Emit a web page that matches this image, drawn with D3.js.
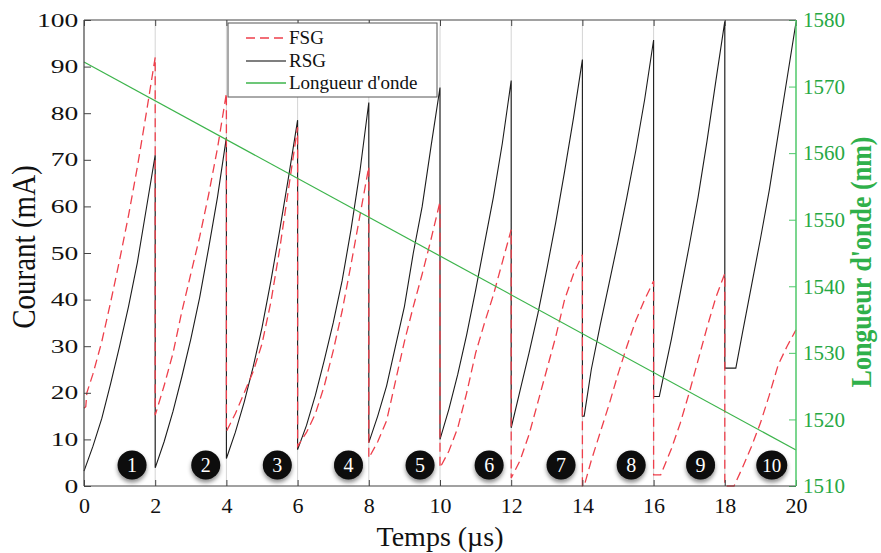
<!DOCTYPE html>
<html><head><meta charset="utf-8">
<script src="https://cdn.jsdelivr.net/npm/d3@7"></script>
<style>
html,body{margin:0;padding:0;background:#fff;}
svg{display:block;font-family:"Liberation Serif","Times New Roman",serif;}
svg text{font-family:"Liberation Serif","Times New Roman",serif !important;}
</style></head><body>
<svg id="chart" width="881" height="553"></svg>
<script>
// ---------- data ----------
const timeTicks = [0,2,4,6,8,10,12,14,16,18,20];
const currentTicks = [0,10,20,30,40,50,60,70,80,90,100];
const wavelengthTicks = [1510,1520,1530,1540,1550,1560,1570,1580];
const gridTimes = [2,4,6,8,10,12,14,16,18];
const seriesNames = ["FSG","RSG","Longueur d'onde"];

const fsgTime = [
  0,0.05,0.08,0.25,0.5,0.75,1.0,1.25,1.5,1.75,2.0,
  2.0,2.25,2.5,2.75,3.0,3.25,3.5,3.75,4.0,
  4.0,4.25,4.5,4.75,5.0,5.25,5.5,5.75,6.0,
  6.0,6.25,6.5,6.75,7.0,7.25,7.5,7.75,8.0,
  8.0,8.25,8.5,8.75,9.0,9.25,9.5,9.75,10.0,
  10.0,10.25,10.5,10.75,11.0,11.25,11.5,11.75,12.0,
  12.0,12.25,12.5,12.75,13.0,13.25,13.5,13.75,14.0,
  14.0,14.05,14.25,14.5,14.75,15.0,15.25,15.5,15.75,16.0,
  16.0,16.2,16.5,16.75,17.0,17.25,17.5,17.75,18.0,
  18.0,18.26,18.5,18.75,19.0,19.25,19.5,19.75,20.0
];
const fsgCurrent = [
  16.7,17,20,24,31,39.5,48.5,58,68.5,80,92,
  15.2,21.5,28.5,37.5,45.5,53.5,62.5,72.5,84.3,
  11.7,15.5,20,24.5,30.5,39.5,51,64,77,
  8.5,11.5,15.5,21.5,29,37.5,47.5,58,68.5,
  6,9.5,14,22.5,31,38.5,45.5,53,61,
  3.9,7.5,12.5,20,28.5,35,41,48,55,
  1.7,5.5,11,18,25,32,40,45.5,49.6,
  0,0,5.5,11.5,17.5,24,30,35.5,40,44,
  2.4,2.4,8,13.5,20,27,34,40.5,45.6,
  0,0,4,8.5,13.5,19.5,26,30,33.5
];

const rsgTime = [
  0,0.25,0.5,0.75,1.0,1.25,1.5,1.75,2.0,
  2.0,2.25,2.5,2.75,3.0,3.25,3.5,3.75,4.0,
  4.0,4.25,4.5,4.75,5.0,5.25,5.5,5.75,6.0,
  6.0,6.25,6.5,6.75,7.0,7.25,7.5,7.75,8.0,
  8.0,8.25,8.5,8.75,9.0,9.25,9.5,9.75,10.0,
  10.0,10.25,10.5,10.75,11.0,11.25,11.5,11.75,12.0,
  12.0,12.25,12.5,12.75,13.0,13.25,13.5,13.75,14.0,
  14.0,14.05,14.25,14.5,14.75,15.0,15.25,15.5,15.75,16.0,
  16.0,16.16,16.25,16.5,16.75,17.0,17.25,17.5,17.75,18.0,
  18.0,18.31,18.5,18.75,19.0,19.25,19.5,19.75,20.0
];
const rsgCurrent = [
  3.2,8.5,14.5,22,30,38.5,48,59.5,71,
  3.9,9.5,16,23.5,31.5,40.5,51,62,74.8,
  5.9,11.5,18,25.5,34,44,55,66.5,78.5,
  7.8,13,19.5,27,35,44,55,67.5,82.3,
  9.3,15,21.5,30,38.5,50,60,73,85.5,
  10,16.5,24,32.5,42,52,62,73.5,87,
  12.5,20.5,28.5,37,46.5,56.5,67.5,79,91.5,
  15,15,25,34.5,43.5,52.5,62,72,83,95.7,
  19.2,19.2,22.5,31.5,41.5,51.5,62,74,87,99.7,
  25.3,25.3,33,43,53,63.5,75.5,87.5,99.5
];

const wavelengthTime = [0,20];
const wavelengthValue = [1573.7,1515.4];

const periodLabels = ["1","2","3","4","5","6","7","8","9","10"];
const periodLabelTime = [1.35,3.42,5.43,7.43,9.44,11.38,13.40,15.37,17.32,19.32];
const periodLabelCurrent = 4.5;

// ---------- layout ----------
const L = 84, R = 796, T = 20, B = 486;
const svg = d3.select("#chart");
const SERIF = '"Liberation Serif","Times New Roman",serif';

const x = d3.scaleLinear().domain([0,20]).range([L,R]);
const y = d3.scaleLinear().domain([0,100]).range([B,T]);
const yR = d3.scaleLinear().domain([1510,1580]).range([B,T]);

const defs = svg.append("defs");
const f = defs.append("filter").attr("id","shadow").attr("x","-50%").attr("y","-50%").attr("width","200%").attr("height","200%");
f.append("feDropShadow").attr("dx",0).attr("dy",3).attr("stdDeviation",2).attr("flood-color","#000").attr("flood-opacity",0.45);

// grid lines
svg.append("g").selectAll("line").data(gridTimes).join("line")
  .attr("x1",d=>x(d)).attr("x2",d=>x(d)).attr("y1",y(100)).attr("y2",y(0))
  .attr("stroke","#d4d4d4").attr("stroke-width",1);

// series
const fsgData = fsgTime.map((t,i)=>[t,fsgCurrent[i]]);
const rsgData = rsgTime.map((t,i)=>[t,rsgCurrent[i]]);
const wlData = wavelengthTime.map((t,i)=>[t,wavelengthValue[i]]);

const lineC = d3.line().x(d=>x(d[0])).y(d=>y(d[1]));
const lineW = d3.line().x(d=>x(d[0])).y(d=>yR(d[1]));

svg.append("path").datum(rsgData).attr("d",lineC)
  .attr("fill","none").attr("stroke","#1c1c1c").attr("stroke-width",1.1);
svg.append("path").datum(fsgData).attr("d",lineC)
  .attr("fill","none").attr("stroke","#ee3f4b").attr("stroke-width",1.3)
  .attr("stroke-dasharray","9,5");
svg.append("path").datum(wlData).attr("d",lineW)
  .attr("fill","none").attr("stroke","#3cb44b").attr("stroke-width",1.2);

// axes
const gL = svg.append("g").attr("transform",`translate(${L},0)`)
  .call(d3.axisLeft(y).tickValues(currentTicks).tickSizeInner(-7).tickSizeOuter(0).tickPadding(4));
gL.select(".domain").remove();
gL.attr("font-family",SERIF);
gL.selectAll("line").attr("stroke","#444");
gL.selectAll("text").attr("font-size",19).attr("fill","#111")
  .attr("transform","scale(1.45,1)");

const gB = svg.append("g").attr("transform",`translate(0,${B})`)
  .call(d3.axisBottom(x).tickValues(timeTicks).tickSizeInner(-6).tickSizeOuter(0).tickPadding(11));
gB.select(".domain").remove();
gB.attr("font-family",SERIF);
gB.selectAll("line").attr("stroke","#444");
gB.selectAll("text").attr("font-size",22).attr("fill","#111");

const gT = svg.append("g").attr("transform",`translate(0,${T})`)
  .call(d3.axisTop(x).tickValues(timeTicks).tickSizeInner(-6).tickSizeOuter(0).tickFormat(""));
gT.select(".domain").remove();
gT.selectAll("line").attr("stroke","#444");

const gR = svg.append("g").attr("transform",`translate(${R},0)`)
  .call(d3.axisRight(yR).tickValues(wavelengthTicks).tickFormat(d3.format("d"))
    .tickSizeInner(-7).tickSizeOuter(0).tickPadding(7));
gR.select(".domain").remove();
gR.attr("font-family",SERIF);
gR.selectAll("line").attr("stroke","#4fc86a");
gR.selectAll("text").attr("font-size",21).attr("fill","#27a844");

// frame
svg.append("line").attr("x1",L).attr("x2",R).attr("y1",T).attr("y2",T).attr("stroke","#444").attr("stroke-width",1.2);
svg.append("line").attr("x1",L).attr("x2",R).attr("y1",B).attr("y2",B).attr("stroke","#444").attr("stroke-width",1.2);
svg.append("line").attr("x1",L).attr("x2",L).attr("y1",T).attr("y2",B).attr("stroke","#444").attr("stroke-width",1.2);
svg.append("line").attr("x1",R).attr("x2",R).attr("y1",T).attr("y2",B).attr("stroke","#4fc86a").attr("stroke-width",1.5);

// period markers
const mk = svg.append("g").selectAll("g").data(periodLabels).join("g")
  .attr("transform",(d,i)=>`translate(${x(periodLabelTime[i])},${y(periodLabelCurrent)})`);
mk.append("ellipse").attr("rx",d=>d.length>1?15.5:14.5).attr("ry",14.5)
  .attr("fill","#080808").attr("filter","url(#shadow)");
mk.append("text").text(d=>d).attr("text-anchor","middle").attr("y",7)
  .attr("font-family",SERIF)
  .attr("font-size",d=>d.length>1?19:20).attr("fill","#fff");

// legend
const lg = svg.append("g");
lg.append("rect").attr("x",228).attr("y",23).attr("width",209).attr("height",74)
  .attr("fill","#fff").attr("stroke","#555").attr("stroke-width",1);
const legendY = [38,61,83];
const legendStyle = [
  {stroke:"#ee3f4b", dash:"9,5"},
  {stroke:"#555", dash:null},
  {stroke:"#3cb44b", dash:null}
];
seriesNames.forEach((name,i)=>{
  lg.append("line").attr("x1",246).attr("x2",286).attr("y1",legendY[i]).attr("y2",legendY[i])
    .attr("stroke",legendStyle[i].stroke).attr("stroke-width",1.3)
    .attr("stroke-dasharray",legendStyle[i].dash);
  lg.append("text").attr("x",289).attr("y",legendY[i]+6).attr("font-size",19)
    .attr("font-family",SERIF).attr("fill","#111").text(name);
});

// axis titles
svg.append("text").attr("x",(L+R)/2).attr("y",546).attr("text-anchor","middle")
  .attr("font-family",SERIF).attr("font-size",28).attr("fill","#111").text("Temps (µs)");
svg.append("text").attr("transform","translate(35,247) scale(1.15,1) rotate(-90)")
  .attr("font-family",SERIF)
  .attr("text-anchor","middle").attr("font-size",29).attr("fill","#111").text("Courant (mA)");
svg.append("text").attr("transform","translate(871,262) scale(1.1,1) rotate(-90)")
  .attr("font-family",SERIF)
  .attr("text-anchor","middle").attr("font-size",26).attr("font-weight","bold").attr("fill","#2fb04a")
  .text("Longueur d'onde (nm)");
</script>
</body></html>
